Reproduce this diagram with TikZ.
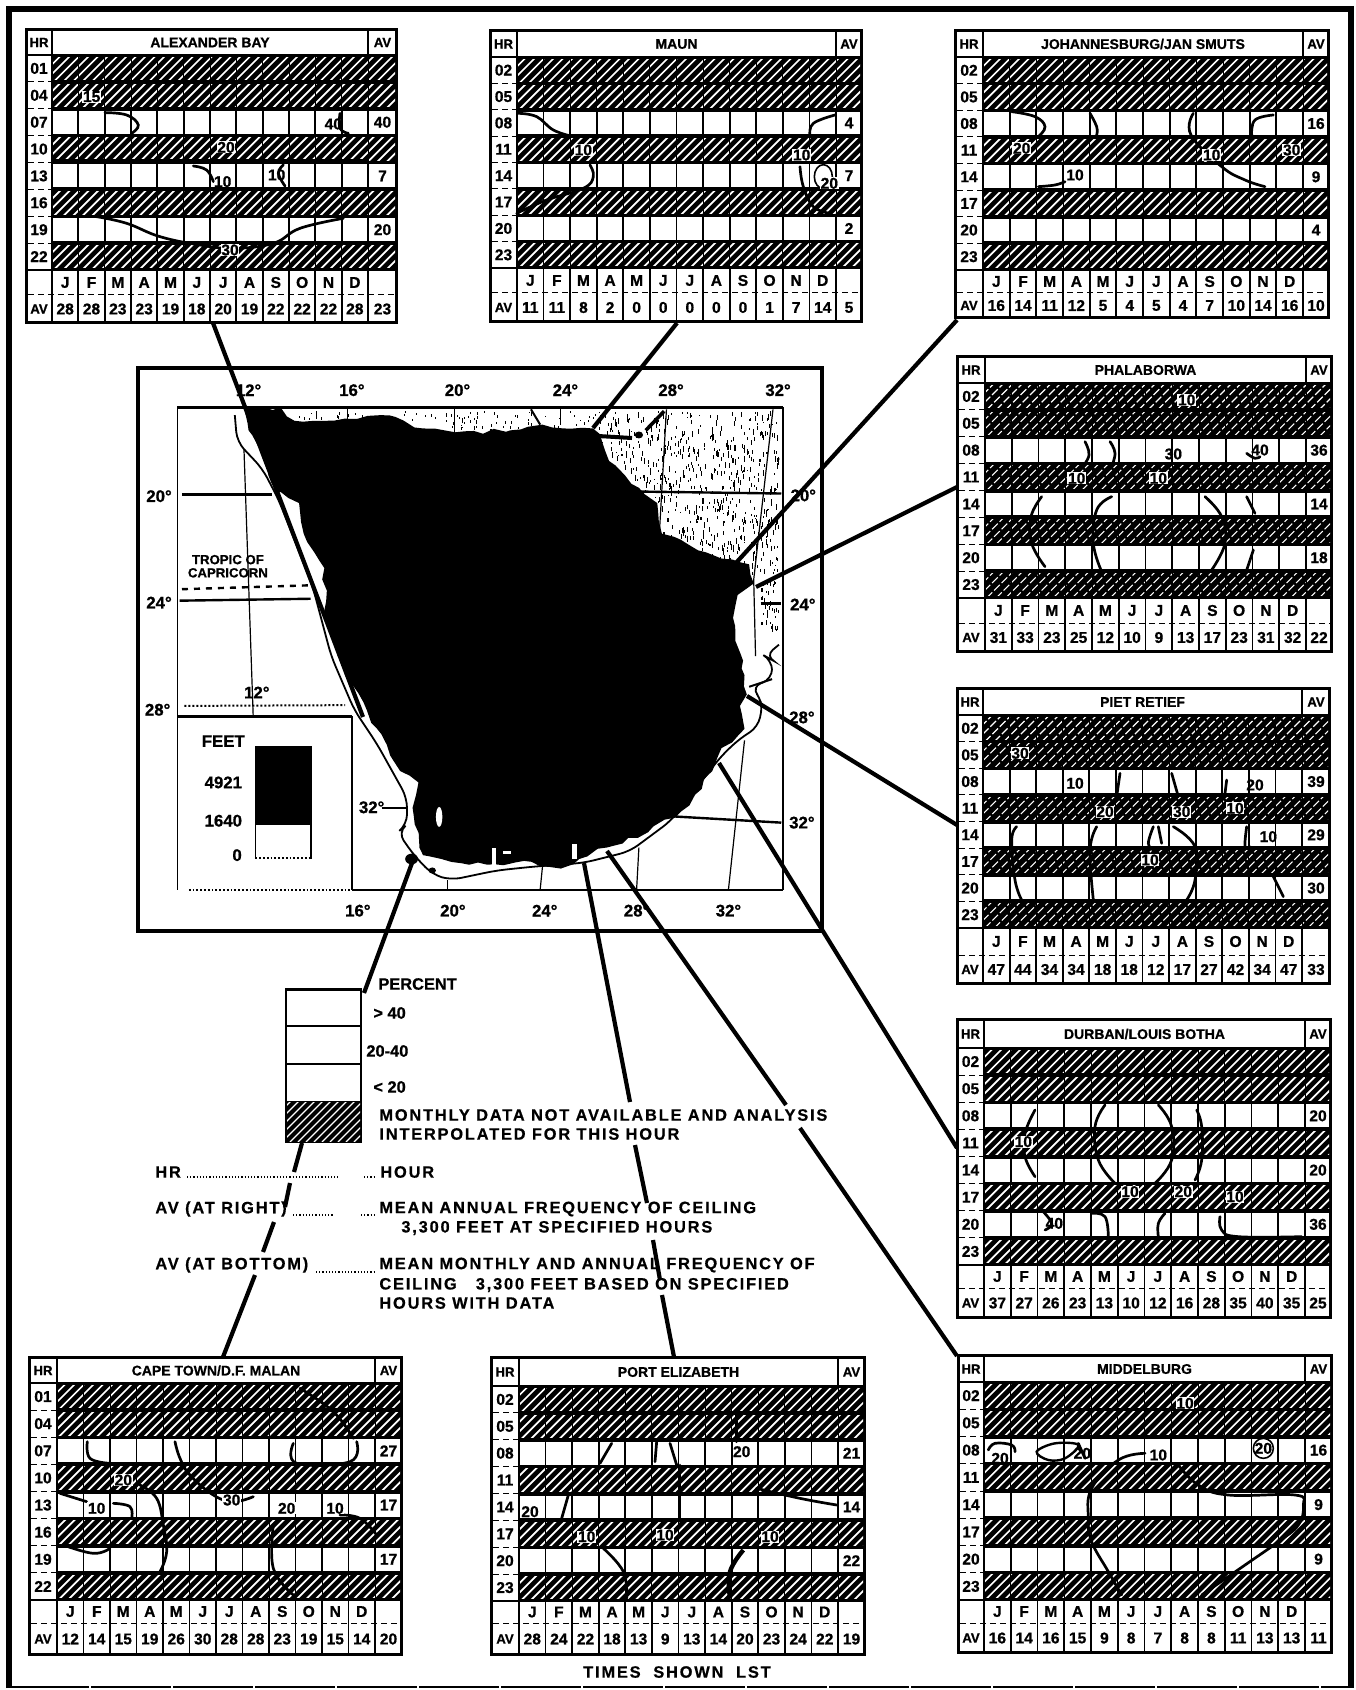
\documentclass[tikz,border=0pt]{standalone}
\usepackage{fontspec}
\setmainfont{Liberation Sans}[BoldFeatures={FakeBold=0.8}]
\newfontfamily\widefont{Liberation Sans}[LetterSpace=11,BoldFeatures={FakeBold=0.6}]
\usetikzlibrary{decorations.pathmorphing}
\newcounter{lbl}
\newcommand\fa{\fontsize{7.8}{8}\selectfont\bfseries}
\newcommand\fh{\fontsize{6.6}{7}\selectfont\bfseries}
\newcommand\ft{\fontsize{7}{8}\selectfont\bfseries}
\newcommand\fl{\fontsize{8.2}{10}\selectfont\bfseries}
\newcommand\flw{\fontsize{8.2}{10}\selectfont\widefont\bfseries}
\newcommand\fm{\fontsize{8.4}{9}\selectfont\bfseries}
\newcommand\setgeom[9]{\def\pL{#1}\def\pT{#2}\def\pR{#3}\def\pB{#4}\def\pH{#5}\def\pA{#6}\def\pTB{#7}\def\pRE{#8}\def\pS{#9}}
\newcommand\chartpanel[8]{%
 \pgfmathsetmacro\rh{(\pRE-\pTB)/8}%
 \pgfmathsetmacro\cwd{(\pA-\pH)/12}%
 \pgfmathsetlengthmacro\wdd{(\pR-\pL)*0.5pt}%
 \pgfmathsetlengthmacro\htt{(\pB-\pT)*0.5pt}%
 \node[panelframe,minimum width=\wdd,minimum height=\htt] (#1) at ({(\pL+\pR)/2},{(\pT+\pB)/2}) {};
 \fill[white] ({\pL+2},{\pT+2}) rectangle ({\pH-1},{\pTB-1});
 \fill[white] ({\pH+1},{\pT+2}) rectangle ({\pA-1},{\pTB-1});
 \fill[white] ({\pA+1},{\pT+2}) rectangle ({\pR-2},{\pTB-1});
 \node[txt t] (#1-t) at ({(\pH+\pA)/2},{(\pT+\pTB)/2+.5}) {#2};
 \node[txt h] (#1-hr) at ({(\pL+\pH)/2},{(\pT+\pTB)/2+.5}) {HR};
 \node[txt h] (#1-av) at ({(\pA+\pR)/2},{(\pT+\pTB)/2+.5}) {AV};
 \fill[white] ({\pL+2},{\pTB+1}) rectangle ({\pH-1},{\pRE-1});
 \foreach \h [count=\ii from 0] in {#3}{%
  \node[txt a] (#1-h\ii) at ({(\pL+\pH)/2},{\pTB+(\ii+.5)*\rh}) {\h};
  \ifnum\ii>0 \draw[black,line width=.5pt,densely dashed] ({\pL+2},{\pTB+\ii*\rh}) -- ({\pH-1},{\pTB+\ii*\rh});\fi
 }
 \foreach \rr in {0,1,3,5,7}{%
  \pgfmathsetmacro\yy{\pTB+\rr*\rh}%
  \pgfmathsetmacro\yz{\yy+\rh}%
  \begin{scope}
   \clip ({\pH+.5},{\yy+2.2}) rectangle ({\pR-2},{\yz-2.2});
   \foreach \kk in {0,...,43}{%
    \pgfmathsetmacro\xa{\pH-\rh+\kk*9.5}%
    \draw[white,#8] (\xa,\yz) -- ({\xa+\rh},\yy);
   }
  \end{scope}
  \foreach \kk in {0,...,12}{%
    \draw[black,line width=.5pt] ({\pH+\kk*\cwd},\yy) -- ({\pH+\kk*\cwd},\yz);
  }
 }
 \foreach \rr in {2,4,6}{%
  \pgfmathsetmacro\yy{\pTB+\rr*\rh}%
  \pgfmathsetmacro\yz{\yy+\rh}%
  \foreach \kk in {0,...,11}{%
   \fill[white] ({\pH+\kk*\cwd+.9},{\yy+2}) rectangle ({\pH+(\kk+1)*\cwd-.9},{\yz-2});
  }
  \fill[white] ({\pA+.9},{\yy+2}) rectangle ({\pR-2},{\yz-2});
 }
 \node[txt a] (#1-a1) at ({(\pA+\pR)/2},{\pTB+2.5*\rh}) {#4};
 \node[txt a] (#1-a2) at ({(\pA+\pR)/2},{\pTB+4.5*\rh}) {#5};
 \node[txt a] (#1-a3) at ({(\pA+\pR)/2},{\pTB+6.5*\rh}) {#6};
 \fill[white] ({\pL+2},{\pRE+1}) rectangle ({\pH-1},{\pB-2});
 \fill[white] ({\pA+1},{\pRE+1}) rectangle ({\pR-2},{\pB-2});
 \foreach \kk in {0,...,11}{%
  \fill[white] ({\pH+\kk*\cwd+.9},{\pRE+1}) rectangle ({\pH+(\kk+1)*\cwd-.9},{\pB-2});
 }
 \draw[black,line width=.5pt,densely dashed] ({\pL+2},\pS) -- ({\pR-2},\pS);
 \foreach \mm [count=\ii from 0] in {J,F,M,A,M,J,J,A,S,O,N,D}{%
  \node[txt a] (#1-m\ii) at ({\pH+(\ii+.5)*\cwd},{(\pRE+\pS)/2}) {\mm};
 }
 \node[txt h] (#1-avb) at ({(\pL+\pH)/2},{(\pS+\pB)/2}) {AV};
 \foreach \vv [count=\ii from 0] in {#7}{%
  \ifnum\ii<12
   \node[txt a] (#1-b\ii) at ({\pH+(\ii+.5)*\cwd},{(\pS+\pB)/2}) {\vv};
  \else
   \node[txt a] (#1-b\ii) at ({(\pA+\pR)/2},{(\pS+\pB)/2}) {\vv};
  \fi
 }
}
\newcommand\cv[1]{\draw[contourline] plot[smooth,tension=.7] coordinates {#1};}
\newcommand\cl[3]{\stepcounter{lbl}\node[conlab] (cl\thelbl) at (#1,#2) {#3};}
\newcommand\clw[3]{\stepcounter{lbl}\node[conlab,fill=white] (cl\thelbl) at (#1,#2) {#3};}
\tikzset{
 txt a/.style={font=\fa,inner sep=0pt},
 txt h/.style={font=\fh,inner sep=0pt},
 txt t/.style={font=\ft,inner sep=0pt},
 panelframe/.style={fill=black,draw=black,line width=1pt,inner sep=0pt,outer sep=0pt},
 contourline/.style={black,line width=1.35pt,line cap=round},
 conlab/.style={font=\fa,inner sep=.3pt},
 link/.style={black,line width=2.1pt},
 maptxt/.style={font=\fm,inner sep=0pt},
 legtxt/.style={font=\fl,anchor=west,inner sep=0pt,align=left},
 legwide/.style={font=\flw,anchor=west,inner sep=0pt,align=left},
 leader/.style={black,line width=.6pt,densely dotted},
 grat/.style={black,line width=.6pt},
 gratb/.style={black,line width=1.2pt},
 hatchopen/.style={line width=.85pt},
 hatchdark/.style={line width=.55pt,dash pattern=on 4pt off 1.3pt}
}
\begin{document}
\begin{tikzpicture}[x=0.5pt,y=-0.5pt]
\useasboundingbox (0,0) rectangle (1355,1690);
\fill[white] (0,0) rectangle (1355,1690);
% outer frame
\draw[black,line width=2.6pt] (9,1688) -- (9,9) -- (1351,9) -- (1351,1688);
\draw[black,line width=1pt,dash pattern=on 40pt off 1pt] (9,1687) -- (1351,1687);
% map frame
\node[draw=black,line width=2pt,minimum width=342pt,minimum height=281.5pt,inner sep=0pt,outer sep=0pt] (mapframe) at (480,649.5) {};
% MAP in crop coordinates
\begin{scope}[shift={(120,350)},xscale=.4592,yscale=.3827]
 % stipple
 \begin{scope}
  \clip (360,158) -- (1436,158) -- (1436,800) -- (1030,800) -- cycle;
  \pgfmathsetseed{11}
  \foreach \i in {1,...,110}{\pgfmathsetmacro\dx{360+rnd*680}\pgfmathsetmacro\dy{160+rnd*50}\fill[black] (\dx,\dy) rectangle ++(2.2,{3+rnd*7});}
  \foreach \i in {1,...,800}{\pgfmathsetmacro\dx{1040+rnd*395}\pgfmathsetmacro\dy{160+rnd*420}\fill[black] (\dx,\dy) rectangle ++(2.2,{3+rnd*14});}
  \foreach \i in {1,...,40}{\pgfmathsetmacro\dx{1395+rnd*40}\pgfmathsetmacro\dy{600+rnd*130}\fill[black] (\dx,\dy) rectangle ++(2.2,{3+rnd*10});}
 \end{scope}
 % outline
 \draw[black,line width=1.6pt] (125,150) -- (1443,150);
 \draw[black,line width=.8pt] (125,150) -- (125,1410);
 \draw[black,line width=.9pt] (1443,150) -- (1443,1410);
 \draw[black,line width=1.5pt] (125,957) -- (505,957);
 \draw[black,line width=.9pt] (505,957) -- (505,1410);
 \draw[black,line width=.9pt] (505,1410) -- (1443,1410);
 \draw[black,line width=.9pt,densely dotted] (150,1412) -- (505,1412);
 % graticule
 \draw[grat] (270,260) -- (290,955);
 \draw[grat] (495,150) -- (495,190);
 \draw[grat] (728,150) -- (728,215);
 \draw[grat] (960,150) -- (960,195);
 \draw[grat] (1190,155) -- (1175,470);
 \draw[grat] (1422,155) -- (1380,600) -- (1384,800);
 \draw[grat] (713,1385) -- (713,1410);
 \draw[grat] (920,1350) -- (915,1410);
 \draw[grat] (1130,1300) -- (1125,1410);
 \draw[grat] (1360,1020) -- (1325,1410);
 \draw[gratb] (135,378) -- (330,378);
 \draw[gratb] (1135,370) -- (1440,375);
 \draw[gratb] (130,655) -- (415,650);
 \draw[gratb] (1395,662) -- (1440,662);
 \draw[gratb,dashed] (135,625) -- (410,615);
 \draw[grat,line width=1pt,densely dotted] (140,930) -- (490,928);
 \draw[gratb] (570,1197) -- (625,1197);
 \draw[gratb] (1195,1218) -- (1440,1235);
 % coast
 \draw[black,line width=.9pt,rounded corners=5pt] (250,170) -- (255,240) -- (310,310) -- (345,390) -- (420,620) -- (460,800) -- (510,940) -- (560,1030) -- (625,1170) -- (625,1240) -- (605,1260) -- (640,1320) -- (680,1370) -- (720,1385) -- (820,1360) -- (900,1350) -- (1010,1340) -- (1060,1325) -- (1110,1310) -- (1200,1230) -- (1310,1060) -- (1350,1015) -- (1390,985) -- (1400,920) -- (1375,880) -- (1420,860) -- (1420,810) -- (1405,800) -- (1435,770);
 \draw[black,line width=1pt] (1370,880) -- (1420,860);
 \draw[black,line width=2pt] (1045,225) -- (1115,230);
 \fill[black] (1130,222) circle[radius=9];
 \draw[black,line width=1.8pt] (1145,210) -- (1185,160);
 \draw[black,line width=1pt] (895,155) -- (915,195);
 \fill[black] (635,1330) circle[radius=14];
 \fill[black] (680,1360) circle[radius=8];
 % land
 \fill[black,decorate,decoration={random steps,segment length=5pt,amplitude=1.3pt}] (270,150) -- (350,150) -- (380,185) -- (500,180) -- (600,175) -- (660,205) -- (730,215) -- (850,210) -- (920,195) -- (1030,205) -- (1050,240) -- (1065,290) -- (1130,360) -- (1170,400) -- (1180,480) -- (1240,510) -- (1310,545) -- (1370,560) -- (1380,610) -- (1345,640) -- (1335,700) -- (1340,760) -- (1360,850) -- (1365,900) -- (1350,930) -- (1360,990) -- (1310,1040) -- (1290,1100) -- (1240,1190) -- (1150,1260) -- (1060,1300) -- (1000,1330) -- (960,1355) -- (880,1335) -- (800,1345) -- (760,1345) -- (700,1330) -- (660,1320) -- (640,1220) -- (650,1130) -- (610,1100) -- (560,990) -- (530,920) -- (490,850) -- (445,680) -- (445,570) -- (400,480) -- (390,400) -- (340,370) -- (310,270) -- (280,210) -- cycle;
 \fill[white] (695,1220) ellipse[x radius=7,y radius=26];
 \fill[white] (810,1300) rectangle (818,1345);
 \fill[white] (835,1310) rectangle (852,1318);
 \fill[white] (985,1290) rectangle (995,1330);
 % map legend
 \fill[black] (295,1035) rectangle (418,1240);
 \draw[black,line width=.6pt] (295,1240) -- (295,1330);
 \draw[black,line width=.6pt] (416,1240) -- (416,1330);
 \draw[black,line width=.9pt,densely dotted] (295,1328) -- (416,1328);
 \node[maptxt] (feet) at (225,1022) {FEET};
 \node[maptxt] (f4921) at (225,1130) {4921};
 \node[maptxt] (f1640) at (225,1230) {1640};
 \node[maptxt] (f0) at (255,1320) {0};
 \node[maptxt] (t1) at (280,105) {12°};
 \node[maptxt] (t2) at (505,105) {16°};
 \node[maptxt] (t3) at (735,105) {20°};
 \node[maptxt] (t4) at (970,105) {24°};
 \node[maptxt] (t5) at (1200,105) {28°};
 \node[maptxt] (t6) at (1433,105) {32°};
 \node[maptxt] (l1) at (85,382) {20°};
 \node[maptxt] (l2) at (85,660) {24°};
 \node[maptxt] (l3) at (82,940) {28°};
 \node[maptxt] (l4) at (298,895) {12°};
 \node[maptxt] (l5) at (548,1195) {32°};
 \node[maptxt] (r1) at (1488,380) {20°};
 \node[maptxt] (r2) at (1487,665) {24°};
 \node[maptxt] (r3) at (1485,960) {28°};
 \node[maptxt] (r4) at (1485,1235) {32°};
 \node[maptxt] (b1) at (518,1465) {16°};
 \node[maptxt] (b2) at (725,1465) {20°};
 \node[maptxt] (b3) at (925,1465) {24°};
 \node[maptxt] (b4) at (1125,1465) {28°};
 \node[maptxt] (b5) at (1325,1465) {32°};
 \node[font=\fontsize{6.6}{6.6}\selectfont\bfseries,align=center,inner sep=0pt] (tropic) at (235,565) {TROPIC OF\\CAPRICORN};
\end{scope}
% connector ends
\coordinate (alexFoot) at (213,323);  \coordinate (alexMap) at (363,717);
\coordinate (maunFoot) at (677,323);  \coordinate (maunMap) at (593,428);
\coordinate (joFoot) at (957,320);    \coordinate (joMap) at (735,564);
\coordinate (phFoot) at (957,487);    \coordinate (phMap) at (756,587);
\coordinate (piFoot) at (957,825);    \coordinate (piMap) at (747,696);
\coordinate (duFoot) at (957,1148);   \coordinate (duMap) at (719,763);
\coordinate (miFoot) at (957,1356);   \coordinate (miMap) at (607,851);
\coordinate (miA) at (786,1105);      \coordinate (miB) at (800,1128);
\coordinate (poMap) at (584,863); \coordinate (poA) at (630,1102); \coordinate (poB) at (635,1145);
\coordinate (poC) at (647,1203); \coordinate (poD) at (653,1240); \coordinate (poE) at (660,1280);
\coordinate (poF) at (662,1295); \coordinate (poFoot) at (674,1357);
\coordinate (caMap) at (412,863); \coordinate (caA) at (364,993); \coordinate (caB) at (302,1143);
\coordinate (caC) at (294,1172); \coordinate (caD) at (290,1183); \coordinate (caE) at (285,1207);
\coordinate (caF) at (274,1222); \coordinate (caG) at (263,1252); \coordinate (caH) at (255,1275);
\coordinate (caFoot) at (223,1357);
\draw[link] (alexFoot) -- (alexMap);
\draw[link] (maunFoot) -- (maunMap);
\draw[link] (joFoot) -- (joMap);
\draw[link] (phFoot) -- (phMap);
\draw[link] (piFoot) -- (piMap);
\draw[link] (duFoot) -- (duMap);
\draw[link] (miMap) -- (miA); \draw[link] (miB) -- (miFoot);
\draw[link] (poMap) -- (poA); \draw[link] (poB) -- (poC); \draw[link] (poD) -- (poE); \draw[link] (poF) -- (poFoot);
\draw[link] (caMap) -- (caA); \draw[link] (caB) -- (caC); \draw[link] (caD) -- (caE); \draw[link] (caF) -- (caG); \draw[link] (caH) -- (caFoot);
% key
\node[draw=black,line width=1.1pt,minimum width=37.5pt,minimum height=76.5pt,inner sep=0pt,outer sep=0pt] (keybox) at (323.5,1065.5) {};
\draw[black,line width=1.5pt] (286,989) -- (361,989);
\draw[black,line width=1.1pt] (286,1026) -- (361,1026);
\draw[black,line width=1.1pt] (286,1064) -- (361,1064);
\fill[black] (286,1101) rectangle (361,1142);
\begin{scope}
 \clip (287,1102) rectangle (360,1141);
 \foreach \kk in {0,...,14}{\draw[white,line width=.65pt] ({250+\kk*8},1142) -- ({291+\kk*8},1101);}
\end{scope}
\node[legtxt] (percent) at (378,984) {PERCENT};
\node[legtxt] (k40) at (373,1013) {> 40};
\node[legtxt] (k2040) at (366,1051) {20-40};
\node[legtxt] (k20) at (373,1087) {< 20};
\node[legwide] (kmon) at (379,1115) {MONTHLY DATA NOT AVAILABLE AND ANALYSIS};
\node[legwide] (kint) at (379,1134) {INTERPOLATED FOR THIS HOUR};
\node[legwide] (khr) at (155,1172) {HR};
\node[legwide] (khour) at (380,1172) {HOUR};
\node[legwide] (kavr) at (155,1209) {AV (AT RIGHT)};
\node[legwide] (kmean) at (379,1209) {MEAN ANNUAL FREQUENCY OF CEILING};
\node[legwide] (kfeet) at (401,1228) {3,300 FEET AT SPECIFIED HOURS};
\node[legwide] (kavb) at (155,1265) {AV (AT BOTTOM)};
\node[legwide] (kmm) at (379,1265) {MEAN MONTHLY AND ANNUAL FREQUENCY OF};
\node[legwide] (kce) at (379,1285) {CEILING \ \ 3,300 FEET BASED ON SPECIFIED};
\node[legwide] (kdata) at (379,1303) {HOURS WITH DATA};
\coordinate (hrS) at (187,1177); \coordinate (hrT) at (338,1177);
\coordinate (hrU) at (364,1177); \coordinate (hrV) at (375,1177);
\coordinate (arS) at (293,1215); \coordinate (arT) at (333,1215);
\coordinate (arU) at (361,1215); \coordinate (arV) at (375,1215);
\coordinate (abS) at (316,1272); \coordinate (abT) at (375,1272);
\draw[leader] (hrS) -- (hrT);
\draw[leader] (hrU) -- (hrV);
\draw[leader] (arS) -- (arT);
\draw[leader] (arU) -- (arV);
\draw[leader,line width=1pt] (abS) -- (abT);
\node[font=\flw,inner sep=0pt] (times) at (677,1672) {TIMES \ SHOWN \ LST};
% PANELS
\setgeom{26}{29}{397}{323}{52}{368}{55}{270}{295}
\chartpanel{alex}{ALEXANDER BAY}{01,04,07,10,13,16,19,22}{40}{7}{20}{28,28,23,23,19,18,20,19,22,22,22,28,23}{hatchopen}
\begin{scope}[scale=1/3]
 \cv{(315,338)(380,345)(415,375)(395,400)}
 \cv{(580,498)(620,510)(640,545)}
 \cv{(1020,340)(1020,385)(1045,400)}
 \cv{(850,495)(835,520)(855,558)}
 \cv{(290,650)(380,670)(480,710)(600,735)(700,745)(820,730)(900,685)(1030,655)}
 \draw[black,line width=2.6pt] (155,485) -- (1105,485);
 \cl{668}{545}{10}\cl{830}{525}{10}\cl{1000}{372}{40}
 \clw{678}{442}{20}\clw{275}{290}{15}\clw{690}{750}{30}
\end{scope}
\setgeom{490}{30}{862}{322}{517}{836}{57}{268}{293}
\chartpanel{maun}{MAUN}{02,05,08,11,14,17,20,23}{4}{7}{2}{11,11,8,2,0,0,0,0,0,1,7,14,5}{hatchopen}
\begin{scope}[shift={(480,20)},scale=1/3]
 \cv{(115,280)(170,290)(220,330)(280,350)}
 \cv{(330,435)(340,470)(310,505)(200,540)(110,580)}
 \cv{(990,345)(1000,310)(1065,285)}
 \cv{(960,440)(970,500)(1000,560)(1050,580)}
 \draw[black,line width=.8pt] (1030,470) ellipse[x radius=27,y radius=36];
 \clw{310}{390}{10}\clw{965}{405}{10}\clw{1048}{490}{20}
\end{scope}
\setgeom{955}{30}{1329}{318}{983}{1303}{57}{270}{293}
\chartpanel{jo}{JOHANNESBURG/JAN SMUTS}{02,05,08,11,14,17,20,23}{16}{9}{4}{16,14,11,12,5,4,5,4,7,10,14,16,10}{hatchopen}
\begin{scope}[shift={(945,20)},scale=1/3]
 \cv{(200,275)(270,290)(300,320)(280,350)}
 \cv{(435,280)(455,320)(455,345)}
 \cv{(745,280)(738,345)(830,440)(900,480)(960,500)}
 \cv{(985,285)(930,300)(920,345)}
 \cv{(360,485)(330,495)(280,500)}
 \clw{390}{465}{10}\clw{230}{385}{20}\clw{800}{405}{10}\clw{1040}{390}{30}
\end{scope}
\setgeom{957}{356}{1332}{652}{985}{1306}{383}{598}{623}
\chartpanel{ph}{PHALABORWA}{02,05,08,11,14,17,20,23}{36}{14}{18}{31,33,23,25,12,10,9,13,17,23,31,32,22}{hatchdark}
\begin{scope}[shift={(945,350)},scale=1/3]
 \cv{(420,275)(432,315)(410,355)}
 \cv{(495,275)(510,310)(498,355)}
 \cv{(905,310)(930,325)(945,320)}
 \cv{(290,440)(258,500)(260,580)(300,650)}
 \cv{(500,440)(455,480)(445,580)(470,665)}
 \cv{(780,440)(830,500)(840,580)(800,660)}
 \cv{(905,440)(930,490)}
 \cv{(925,600)(905,660)}
 \cl{685}{312}{30}\cl{945}{300}{40}
 \clw{395}{385}{10}\clw{640}{385}{10}\clw{725}{150}{10}
\end{scope}
\setgeom{957}{688}{1330}{984}{983}{1302}{715}{928}{955}
\chartpanel{pi}{PIET RETIEF}{02,05,08,11,14,17,20,23}{39}{29}{30}{47,44,34,34,18,18,12,17,27,42,34,47,33}{hatchdark}
\begin{scope}[shift={(940,680)},scale=1/3]
 \cv{(230,440)(215,480)(225,600)(245,660)}
 \cv{(470,440)(450,510)(460,660)}
 \cv{(640,440)(625,490)(640,510)}
 \cv{(655,440)(665,490)}
 \cv{(700,440)(765,500)(765,600)(740,660)}
 \cv{(920,440)(915,500)(930,500)}
 \cv{(1000,590)(1030,650)}
 \cv{(860,300)(855,340)}
 \cv{(540,280)(530,350)}
 \cv{(695,280)(715,350)}
 \cl{405}{310}{10}\cl{945}{315}{20}\cl{985}{470}{10}
 \clw{495}{395}{20}\clw{630}{540}{10}\clw{725}{395}{30}\clw{885}{385}{10}\clw{240}{220}{30}
\end{scope}
\setgeom{957}{1019}{1331}{1318}{984}{1305}{1048}{1265}{1288}
\chartpanel{du}{DURBAN/LOUIS BOTHA}{02,05,08,11,14,17,20,23}{20}{20}{36}{37,27,26,23,13,10,12,16,28,35,40,35,25}{hatchopen}
\begin{scope}[shift={(945,1010)},scale=1/3]
 \cv{(270,300)(240,370)(240,440)(270,500)}
 \cv{(480,285)(450,350)(460,450)(510,520)}
 \cv{(640,285)(680,350)(680,450)(630,520)}
 \cv{(755,300)(770,350)(770,450)(750,510)}
 \cv{(290,600)(320,640)(300,660)}
 \cv{(440,610)(480,620)(490,680)}
 \cv{(660,610)(640,640)(640,680)}
 \cv{(825,620)(830,660)(880,680)(1070,680)}
 \cl{328}{640}{40}
 \clw{235}{395}{10}\clw{555}{545}{10}\clw{715}{545}{20}\clw{870}{560}{10}
\end{scope}
\setgeom{958}{1355}{1332}{1653}{984}{1305}{1382}{1600}{1623}
\chartpanel{mi}{MIDDELBURG}{02,05,08,11,14,17,20,23}{16}{9}{9}{16,14,16,15,9,8,7,8,8,11,13,13,11}{hatchopen}
\begin{scope}[shift={(945,1345)},scale=1/3]
 \cv{(130,315)(150,295)(200,300)(210,320)}
 \draw[black,line width=1.2pt] plot[smooth cycle,tension=.6] coordinates {(275,320)(330,295)(400,300)(360,340)(310,345)};
 \cv{(400,295)(420,340)}
 \cv{(600,325)(520,345)(440,430)(430,520)(440,590)(490,680)(530,750)}
 \cv{(700,360)(760,420)(850,450)(1050,450)(1075,480)(1060,540)(1000,590)(900,660)(770,750)}
 \draw[black,line width=.8pt] (955,310) circle[radius=30];
 \cl{165}{340}{20}\cl{412}{325}{20}\cl{640}{330}{10}\cl{955}{310}{20}
 \clw{720}{175}{10}
\end{scope}
\setgeom{29}{1357}{402}{1655}{57}{375}{1383}{1600}{1623}
\chartpanel{ca}{CAPE TOWN/D.F. MALAN}{01,04,07,10,13,16,19,22}{27}{17}{17}{12,14,15,19,26,30,28,28,23,19,15,14,20}{hatchopen}
\begin{scope}[shift={(0,1345)},scale=1/3]
 \cv{(262,290)(270,340)(330,355)}
 \cv{(525,290)(540,340)(570,390)(640,450)(700,470)(760,455)}
 \cv{(880,295)(890,355)(1050,350)(1070,290)}
 \cv{(180,445)(260,470)}
 \cv{(340,475)(390,485)(395,520)}
 \cv{(420,420)(470,460)(490,540)(500,620)(480,680)}
 \cv{(190,600)(280,625)(330,610)}
 \cv{(820,540)(820,670)(880,750)}
 \cv{(1020,510)(1080,520)(1130,570)}
 \cv{(900,130)(1000,200)(1060,280)}
 \clw{290}{490}{10}\clw{695}{465}{30}\clw{860}{490}{20}\clw{1005}{490}{10}\clw{370}{405}{20}
\end{scope}
\setgeom{491}{1357}{865}{1655}{519}{838}{1386}{1601}{1623}
\chartpanel{po}{PORT ELIZABETH}{02,05,08,11,14,17,20,23}{21}{14}{22}{28,24,22,18,13,9,13,14,20,23,24,22,19}{hatchopen}
\begin{scope}[shift={(480,1345)},scale=1/3]
 \cv{(395,295)(360,355)}
 \cv{(530,290)(525,350)}
 \cv{(570,295)(590,360)}
 \cv{(770,200)(770,290)}
 \cv{(600,360)(600,530)}
 \cv{(265,450)(245,520)}
 \cv{(370,610)(430,680)(440,760)}
 \draw[black,line width=2.2pt] plot[smooth,tension=.7] coordinates {(790,615)(750,680)(750,760)};
 \cv{(830,430)(960,460)(1070,480)}
 \cl{150}{500}{20}\cl{785}{320}{20}
 \clw{320}{575}{10}\clw{555}{570}{10}\clw{870}{575}{10}
\end{scope}
\end{tikzpicture}
\end{document}
